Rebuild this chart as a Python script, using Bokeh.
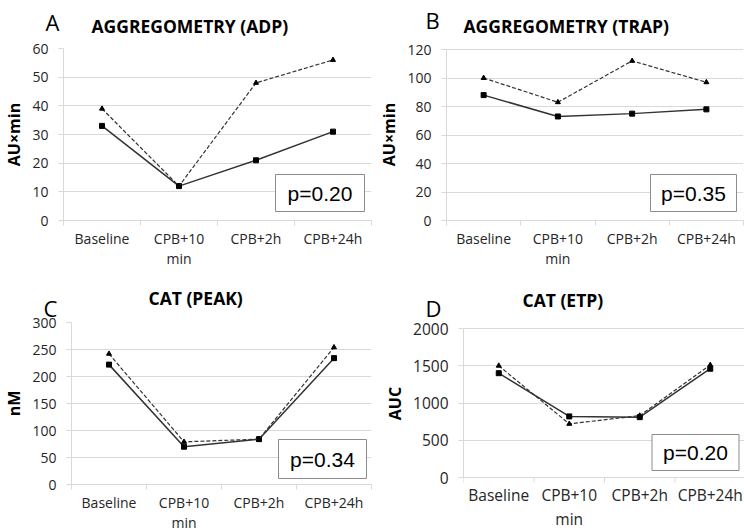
from bokeh.plotting import figure
from bokeh.layouts import column, row
from bokeh.models import Range1d, FixedTicker, Title
from bokeh.core.properties import value
from bokeh.embed import file_html
from bokeh.resources import INLINE

# Time points
timepoints = ["Baseline", "CPB+10\nmin", "CPB+2h", "CPB+24h"]
x_pos = [1, 2, 3, 4]
boundaries = [0.5, 1.5, 2.5, 3.5, 4.5]

# A: aggregometry, ADP (AU×min)
adp_solid = [33, 12, 21, 31]
adp_dashed = [39, 12, 48, 56]
# B: aggregometry, TRAP (AU×min)
trap_solid = [88, 73, 75, 78]
trap_dashed = [100, 83, 112, 97]
# C: CAT peak (nM)
peak_solid = [222, 70, 84, 234]
peak_dashed = [242, 79, 84, 254]
# D: CAT endogenous thrombin potential (AUC)
etp_solid = [1400, 820, 810, 1460]
etp_dashed = [1500, 720, 830, 1510]

p_values = ["p=0.20", "p=0.35", "p=0.34", "p=0.20"]

FONT = "Open Sans"
GRID = "#d9d9d9"
INK = "#333333"
LABEL_INK = "#262626"

ROW1_BOTTOM = 64
ROW2_TOP = 48 + 172 + ROW1_BOTTOM


def make_panel(title, letter, ylabel, ymax, ystep, solid, dashed, ptext, spec):
    # spec holds page-pixel geometry: frame box, the pixel rows of 0 and ymax,
    # title/letter placement and the p-value box
    ox, oy = spec["origin"]
    fl, ft, fr, fb = spec["frame"]
    y0_px, ymax_px = spec["axis_px"]
    x0, x1 = 0.5, 4.5

    # value range so that 0 and ymax land on the requested pixel rows
    per_px = ymax / (y0_px - ymax_px)
    y_start = -(fb - y0_px) * per_px
    y_end = ymax + (ymax_px - ft) * per_px

    def to_data(px, py):
        return (x0 + (px - fl) / (fr - fl) * (x1 - x0),
                y_start + (fb - py) * per_px)

    font_px = spec.get("font_px", 14)
    p = figure(frame_width=fr - fl, frame_height=fb - ft, output_backend="svg",
               toolbar_location=None,
               x_range=Range1d(x0, x1), y_range=Range1d(y_start, y_end),
               min_border_left=fl - ox, min_border_right=ox + 372 - fr,
               min_border_top=ft - oy, min_border_bottom=spec["bottom"])
    p.outline_line_color = None

    # panel letter and bold title; the inner one sits next to the frame
    letter_title = Title(text=letter, align="left", offset=spec["letter_offset"],
                         standoff=spec["letter_standoff"], text_font=FONT,
                         text_font_style="normal", text_font_size="22px",
                         text_color="black")
    main_title = Title(text=title, align="left", offset=spec["title_offset"],
                       standoff=spec["title_standoff"], text_font=FONT,
                       text_font_style="bold", text_font_size="17.5px",
                       text_color="black")
    if spec.get("letter_inner"):
        p.title = main_title
        p.add_layout(letter_title, "above")
    else:
        p.title = letter_title
        p.add_layout(main_title, "above")

    # x axis: labels at category centres, short ticks at category boundaries
    p.xaxis.ticker = FixedTicker(ticks=x_pos, minor_ticks=boundaries)
    p.xaxis.major_label_overrides = {x: t for x, t in zip(x_pos, timepoints)}
    p.xaxis.major_tick_line_color = None
    p.xaxis.major_tick_out = 0
    p.xaxis.major_tick_in = 0
    p.xaxis.minor_tick_out = 5
    p.xaxis.minor_tick_in = 0
    p.xaxis.major_label_standoff = spec.get("xlabel_standoff", 3)
    p.xaxis.major_label_text_font = FONT
    p.xaxis.major_label_text_font_size = f"{font_px}px"
    p.xaxis.major_label_text_line_height = 1.1
    p.xaxis.major_label_text_color = LABEL_INK
    p.xgrid.grid_line_color = None
    if y_start < 0:
        # zero line sits above the frame edge: draw the boundary ticks from it
        p.xaxis.axis_line_color = None
        p.xaxis.minor_tick_line_color = None
        p.segment(x0=boundaries, y0=[0] * 5, x1=boundaries, y1=[-5 * per_px] * 5,
                  line_color=GRID, line_width=1)
    else:
        p.xaxis.axis_line_color = GRID
        p.xaxis.minor_tick_line_color = GRID

    # y axis
    p.yaxis.ticker = FixedTicker(ticks=list(range(0, ymax + 1, ystep)), minor_ticks=[])
    p.yaxis.bounds = (0, ymax)
    p.yaxis.axis_line_color = GRID
    p.yaxis.major_tick_line_color = GRID
    p.yaxis.major_tick_out = 5
    p.yaxis.major_tick_in = 0
    p.yaxis.minor_tick_line_color = None
    p.yaxis.major_label_standoff = 10
    p.yaxis.major_label_text_font = FONT
    p.yaxis.major_label_text_font_size = f"{font_px}px"
    p.yaxis.major_label_text_color = LABEL_INK
    p.yaxis.axis_label = ylabel
    p.yaxis.axis_label_text_font = FONT
    p.yaxis.axis_label_text_font_style = "bold"
    p.yaxis.axis_label_text_font_size = "16px"
    p.yaxis.axis_label_text_color = "#000000"
    p.yaxis.axis_label_standoff = 4
    p.ygrid.grid_line_color = GRID

    # series: solid with squares, dashed with triangles
    p.line(x_pos, solid, line_color=INK, line_width=1.5)
    p.scatter(x_pos, solid, marker="square", size=5, fill_color="black", line_color="black")
    p.line(x_pos, dashed, line_color=INK, line_width=1.2, line_dash="4 2")
    p.scatter(x_pos, dashed, marker="triangle", size=5, fill_color="black", line_color="black")

    # p-value box
    bx, by = to_data(*spec["box"])
    bw, bh = spec["box_size"]
    p.rect([bx], [by], width=bw, height=bh, width_units="screen", height_units="screen",
           fill_color="white", line_color="#8c8c8c", line_width=1)
    p.text([bx], [by], text=[ptext], text_align="center", text_baseline="middle",
           text_font=value("Liberation Sans"), text_font_size="21px", text_color="black")
    return p


spec_a = dict(origin=(0, 0), frame=(62, 48, 370, 220), axis_px=(220, 48), bottom=ROW1_BOTTOM,
              title_offset=28, title_standoff=21, letter_offset=-18, letter_standoff=-70,
              box=(318.5, 192.5), box_size=(89, 37))
spec_b = dict(origin=(372, 0), frame=(445, 48, 742, 220), axis_px=(220, 49), bottom=ROW1_BOTTOM,
              title_offset=17, title_standoff=21, letter_offset=-21, letter_standoff=-67,
              box=(692, 192.5), box_size=(86, 37))
spec_c = dict(origin=(0, ROW2_TOP), frame=(68, 322, 368, 484), axis_px=(484, 322), bottom=0,
              title_offset=77, title_standoff=-38, letter_offset=-28, letter_standoff=0,
              letter_inner=True, box=(319, 458.5), box_size=(88, 39))
spec_d = dict(origin=(372, ROW2_TOP), frame=(460, 322, 742, 484), axis_px=(477, 328), bottom=0,
              title_offset=59, title_standoff=-42, letter_offset=-38, letter_standoff=0,
              letter_inner=True, box=(692, 452), box_size=(87, 36), font_px=15.5,
              xlabel_standoff=-6)

pa = make_panel("AGGREGOMETRY (ADP)", "A", "AU×min", 60, 10, adp_solid, adp_dashed,
                p_values[0], spec_a)
pb = make_panel("AGGREGOMETRY (TRAP)", "B", "AU×min", 120, 20, trap_solid, trap_dashed,
                p_values[1], spec_b)
pc = make_panel("CAT (PEAK)", "C", "nM", 300, 50, peak_solid, peak_dashed,
                p_values[2], spec_c)
pd = make_panel("CAT (ETP)", "D", "AUC", 2000, 500, etp_solid, etp_dashed,
                p_values[3], spec_d)

layout = column(row(pa, pb), row(pc, pd))

with open("out.html", "w") as f:
    f.write(file_html(layout, INLINE))
